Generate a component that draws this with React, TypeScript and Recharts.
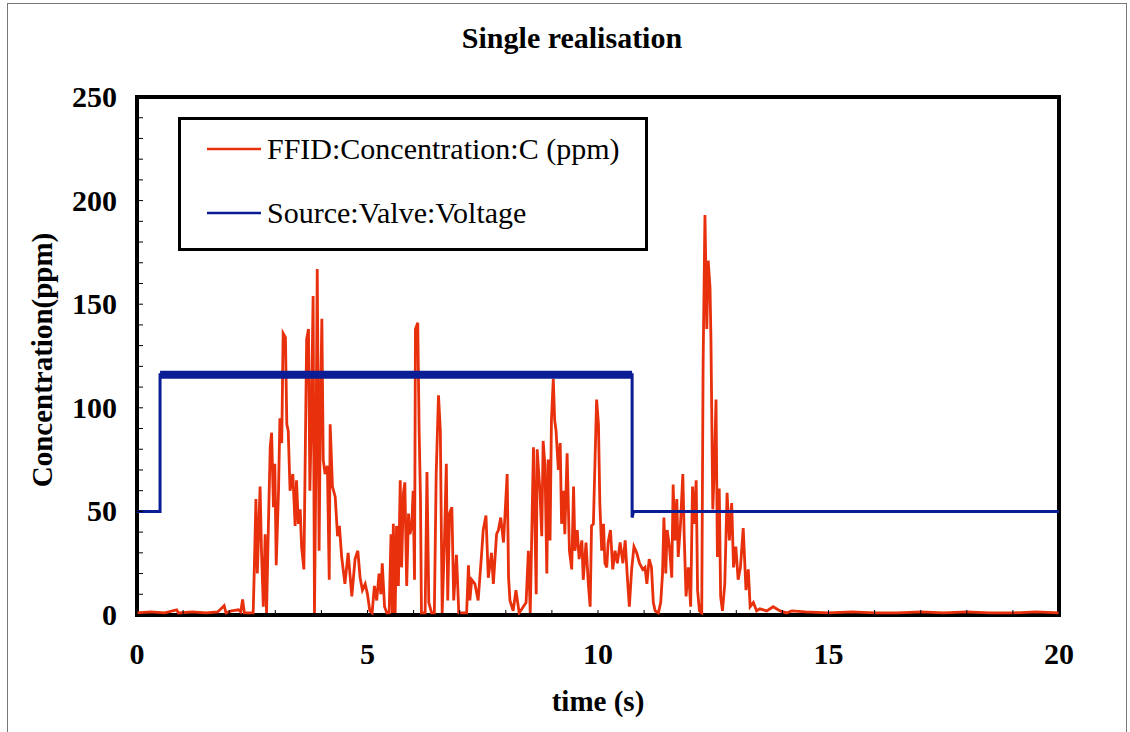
import React from "react";
import {
  LineChart,
  Line,
  XAxis,
  YAxis,
  ReferenceArea,
  Legend,
} from "recharts";

const FONT = "Liberation Serif, Times New Roman, serif";
const RED = "#e8300c";
const BLUE = "#0a1d94";

const chartTitle = "Single realisation";
const xTitle = "time (s)";
const yTitle = "Concentration(ppm)";
const seriesNames = ["FFID:Concentration:C (ppm)", "Source:Valve:Voltage"];

const xTicks = [0, 1, 2, 3, 4, 5, 6, 7, 8, 9, 10, 11, 12, 13, 14, 15, 16, 17, 18, 19, 20];
const yTicks = [
  0, 10, 20, 30, 40, 50, 60, 70, 80, 90, 100, 110, 120, 130, 140, 150, 160, 170, 180, 190,
  200, 210, 220, 230, 240, 250,
];
const yRightTicks = [0, 50, 100, 150, 200, 250];

// FFID concentration (s, ppm)
const ffidTime = [
  0, 0.3, 0.6, 0.86, 0.9, 1.2, 1.5, 1.75, 1.89, 1.93, 2.05, 2.2, 2.25, 2.29, 2.33, 2.45, 2.52,
  2.54, 2.58, 2.61, 2.67, 2.7, 2.74, 2.78, 2.81, 2.85, 2.89, 2.92, 2.96, 2.99, 3.02, 3.07,
  3.1, 3.14, 3.17, 3.22, 3.25, 3.28, 3.32, 3.38, 3.43, 3.46, 3.5, 3.54, 3.57, 3.62, 3.68,
  3.72, 3.75, 3.78, 3.82, 3.85, 3.88, 3.91, 3.95, 3.98, 4.01, 4.04, 4.08, 4.13, 4.17, 4.19,
  4.24, 4.3, 4.35, 4.39, 4.44, 4.51, 4.58, 4.66, 4.73, 4.79, 4.84, 4.89, 4.95, 5.0, 5.05,
  5.1, 5.15, 5.2, 5.25, 5.29, 5.32, 5.37, 5.42, 5.47, 5.51, 5.54, 5.56, 5.6, 5.63, 5.67,
  5.71, 5.74, 5.78, 5.81, 5.85, 5.89, 5.92, 5.96, 5.99, 6.02, 6.04, 6.09, 6.12, 6.15, 6.17,
  6.25, 6.29, 6.33, 6.39, 6.45, 6.49, 6.54, 6.58, 6.62, 6.67, 6.71, 6.74, 6.78, 6.83, 6.87,
  6.93, 6.98, 7.08, 7.15, 7.19, 7.22, 7.26, 7.33, 7.4, 7.48, 7.51, 7.57, 7.62, 7.69, 7.73,
  7.8, 7.84, 7.89, 7.95, 8.03, 8.06, 8.09, 8.16, 8.22, 8.29, 8.38, 8.44, 8.49, 8.53, 8.6,
  8.66, 8.68, 8.74, 8.78, 8.81, 8.85, 8.89, 8.92, 8.96, 8.99, 9.03, 9.06, 9.09, 9.14, 9.18,
  9.21, 9.25, 9.28, 9.33, 9.38, 9.43, 9.47, 9.5, 9.55, 9.59, 9.65, 9.68, 9.74, 9.79, 9.83,
  9.86, 9.9, 9.93, 9.97, 10.01, 10.04, 10.08, 10.12, 10.15, 10.19, 10.22, 10.27, 10.32,
  10.37, 10.42, 10.48, 10.54, 10.59, 10.64, 10.68, 10.73, 10.78, 10.84, 10.9, 10.97, 11.02,
  11.06, 11.11, 11.16, 11.2, 11.24, 11.31, 11.36, 11.4, 11.43, 11.47, 11.5, 11.55, 11.6,
  11.63, 11.67, 11.71, 11.74, 11.79, 11.84, 11.87, 11.91, 11.96, 12.01, 12.05, 12.08, 12.13,
  12.16, 12.2, 12.25, 12.28, 12.32, 12.36, 12.39, 12.43, 12.45, 12.49, 12.53, 12.56, 12.59,
  12.63, 12.66, 12.7, 12.75, 12.8, 12.85, 12.9, 12.94, 12.99, 13.04, 13.09, 13.15, 13.21,
  13.26, 13.3, 13.37, 13.44, 13.51, 13.66, 13.8, 13.95, 14.09, 14.2, 14.5, 15, 15.5, 16,
  16.5, 17, 17.5, 18, 18.5, 19, 19.5, 20,
];
const ffidConc = [
  1, 1.5, 1, 2.5, 1, 1.5, 1, 1.5, 4.5, 1, 2, 2.5, 1.5, 7.5, 1, 1, 1,
  18, 56, 20, 62, 31, 4, 39, 1, 43, 81, 88, 52, 73, 24, 60,
  95, 83, 136, 134, 92, 89, 60, 68, 43, 65, 44, 51, 33, 22, 133,
  138, 60, 92, 154, 1, 72, 167, 31, 102, 143, 75, 68, 72, 17, 92,
  62, 57, 38, 43, 28, 15, 30, 9, 27, 31, 18, 12, 15, 10, 2,
  1, 14, 7, 20, 10, 25, 4, 1, 1, 39, 1, 44, 1, 43, 14,
  65, 23, 59, 64, 14, 49, 39, 43, 60, 17, 138, 141, 89, 55, 1,
  1, 69, 6, 1, 1, 68, 106, 89, 1, 36, 73, 7, 49, 52, 7,
  29, 1, 1, 1, 24, 7, 17, 15, 7, 31, 41, 48, 18, 30, 15,
  39, 41, 47, 35, 68, 18, 7, 2, 12, 1, 4, 6, 31, 1, 81,
  10, 80, 60, 38, 84, 72, 20, 75, 36, 94, 114, 94, 89, 70, 83,
  44, 60, 39, 78, 31, 22, 62, 31, 41, 27, 36, 17, 35, 15, 4,
  43, 44, 70, 104, 92, 54, 31, 44, 25, 23, 35, 41, 22,
  31, 25, 35, 25, 36, 17, 4, 22, 33, 30, 25, 22, 23,
  15, 27, 23, 6, 2, 1, 6, 20, 47, 20, 41, 33, 18,
  63, 36, 56, 28, 44, 68, 38, 9, 23, 4, 62, 44, 65,
  12, 2, 1, 121, 193, 138, 171, 158, 133, 51, 76, 104, 28,
  61, 9, 2, 15, 59, 36, 54, 23, 33, 17, 23, 42, 12,
  22, 4, 6, 2, 3, 2, 4, 2, 1, 2, 1.5, 1, 1.5, 1,
  1, 1.5, 1, 1.5, 1, 1, 1.5, 1,
];

// valve voltage step (s, scaled level)
const valveTime = [0, 0.5, 0.5, 10.74, 10.74, 10.77, 20];
const valveVolt = [50, 50, 116, 116, 47, 50, 50];

const ffidData = ffidTime.map((t, i) => ({ t, c: ffidConc[i] }));
const valveData = valveTime.map((t, i) => ({ t, v: valveVolt[i] }));
const valveHigh = valveData.filter((d) => d.v > 100);

function YTick(props: any) {
  const { x, y, payload } = props;
  if (payload.value % 50 !== 0) return <g />;
  return (
    <text x={x} y={y} dy={10} textAnchor="end" fontFamily={FONT} fontWeight="bold" fontSize={30} fill="#000">
      {payload.value}
    </text>
  );
}

function XTick(props: any) {
  const { x, y, payload } = props;
  if (payload.value % 5 !== 0) return <g />;
  return (
    <text x={x} y={y} dy={49} textAnchor="middle" fontFamily={FONT} fontWeight="bold" fontSize={30} fill="#000">
      {payload.value}
    </text>
  );
}

// legend box drawn as svg so it uses the same serif font as the axes
function LegendBox() {
  const colors = [RED, BLUE];
  const rows = [32, 96];
  return (
    <svg width={470} height={134} style={{ display: "block" }}>
      <rect x={1.5} y={1.5} width={467} height={131} fill="#fff" stroke="#000" strokeWidth={3} />
      {seriesNames.map((name, i) => (
        <g key={name}>
          <line x1={29} x2={83} y1={rows[i]} y2={rows[i]} stroke={colors[i]} strokeWidth={2.5} />
          <text x={89} y={rows[i] + 10} fontFamily={FONT} fontSize={30} fill="#000">
            {name}
          </text>
        </g>
      ))}
    </svg>
  );
}

export default function App() {
  return (
    <div style={{ position: "absolute", left: 0, top: 0, width: 1130, height: 732, overflow: "hidden", background: "#fff" }}>
      <div
        style={{
          position: "absolute",
          left: 7,
          top: 3,
          width: 1118,
          height: 780,
          border: "1px solid #777",
        }}
      />
      <div
        style={{
          position: "absolute",
          left: 372,
          top: 20,
          width: 400,
          textAlign: "center",
          fontFamily: FONT,
          fontWeight: "bold",
          fontSize: 30,
          lineHeight: "36px",
        }}
      >
        {chartTitle}
      </div>
      <div style={{ position: "absolute", left: 0, top: 0 }}>
        <LineChart width={1130} height={732} margin={{ top: 97, right: 0, bottom: 0, left: 0 }}>
          <XAxis
            type="number"
            dataKey="t"
            domain={[0, 20]}
            ticks={xTicks}
            interval={0}
            height={117}
            axisLine={false}
            tickLine={{ stroke: "#000", strokeWidth: 1 }}
            tickSize={-5}
            tickMargin={5}
            tick={<XTick />}
            allowDataOverflow
            label={{
              content: (p: any) => {
                const vb = p.viewBox;
                return (
                  <text
                    x={vb.x + vb.width / 2}
                    y={vb.y + 96}
                    textAnchor="middle"
                    fontFamily={FONT}
                    fontWeight="bold"
                    fontSize={29}
                    fill="#000"
                  >
                    {xTitle}
                  </text>
                );
              },
            }}
          />
          <YAxis
            yAxisId="l"
            type="number"
            domain={[0, 250]}
            ticks={yTicks}
            interval={0}
            width={137}
            axisLine={false}
            tickLine={{ stroke: "#000", strokeWidth: 1 }}
            tickSize={-6}
            tickMargin={26}
            tick={<YTick />}
            allowDataOverflow
            label={{
              content: (p: any) => {
                const vb = p.viewBox;
                const cx = vb.x + 42;
                const cy = vb.y + vb.height / 2 + 4;
                return (
                  <text
                    x={cx}
                    y={cy}
                    transform={`rotate(-90 ${cx} ${cy})`}
                    textAnchor="middle"
                    dominantBaseline="central"
                    fontFamily={FONT}
                    fontWeight="bold"
                    fontSize={29}
                    fill="#000"
                  >
                    {yTitle}
                  </text>
                );
              },
            }}
          />
          <YAxis
            yAxisId="r"
            orientation="right"
            type="number"
            domain={[0, 250]}
            ticks={yRightTicks}
            interval={0}
            width={71}
            axisLine={false}
            tickLine={{ stroke: "#000", strokeWidth: 1 }}
            tickSize={-6}
            tick={() => <g />}
          />
          <Legend
            layout="horizontal"
            verticalAlign="middle"
            align="center"
            wrapperStyle={{ left: 178, top: 117, width: 470, height: 134 }}
            content={() => <LegendBox />}
          />
          <Line
            yAxisId="l"
            data={ffidData}
            dataKey="c"
            name={seriesNames[0]}
            type="linear"
            stroke={RED}
            strokeWidth={2.8}
            strokeLinejoin="miter"
            dot={false}
            isAnimationActive={false}
          />
          <Line
            yAxisId="l"
            data={valveData}
            dataKey="v"
            name={seriesNames[1]}
            type="linear"
            stroke={BLUE}
            strokeWidth={3}
            dot={false}
            isAnimationActive={false}
          />
          <Line
            yAxisId="l"
            data={valveHigh}
            dataKey="v"
            legendType="none"
            type="linear"
            stroke={BLUE}
            strokeWidth={8}
            dot={false}
            isAnimationActive={false}
          />
          <ReferenceArea
            yAxisId="l"
            x1={0}
            x2={20}
            y1={0}
            y2={250}
            stroke="#000"
            strokeWidth={4}
            fill="#fff"
            fillOpacity={0}
          />
        </LineChart>
      </div>
    </div>
  );
}
